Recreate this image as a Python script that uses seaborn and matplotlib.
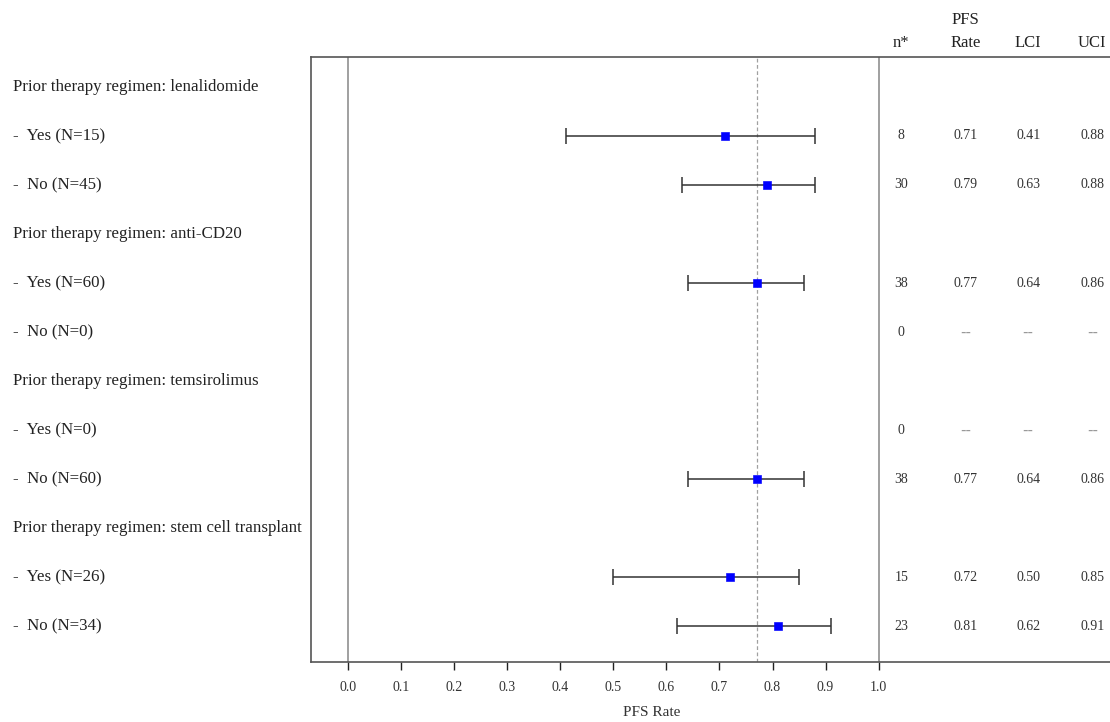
import matplotlib
matplotlib.use("Agg")
import matplotlib.pyplot as plt
import seaborn as sns
import numpy as np
import pandas as pd

# ---- data ----
row_labels = [
    "Prior therapy regimen: lenalidomide",
    "-  Yes (N=15)",
    "-  No (N=45)",
    "Prior therapy regimen: anti-CD20",
    "-  Yes (N=60)",
    "-  No (N=0)",
    "Prior therapy regimen: temsirolimus",
    "-  Yes (N=0)",
    "-  No (N=60)",
    "Prior therapy regimen: stem cell transplant",
    "-  Yes (N=26)",
    "-  No (N=34)",
]
is_header = [True, False, False, True, False, False, True, False, False, True, False, False]
n_star = [None, 8, 30, None, 38, 0, None, 0, 38, None, 15, 23]
pfs_rate = [None, 0.71, 0.79, None, 0.77, None, None, None, 0.77, None, 0.72, 0.81]
lci = [None, 0.41, 0.63, None, 0.64, None, None, None, 0.64, None, 0.50, 0.62]
uci = [None, 0.88, 0.88, None, 0.86, None, None, None, 0.86, None, 0.85, 0.91]
ref_rate = 0.77
xticks = [0.0, 0.1, 0.2, 0.3, 0.4, 0.5, 0.6, 0.7, 0.8, 0.9, 1.0]
col_headers = ["n*", "PFS\nRate", "LCI", "UCI"]

sns.set_theme(style="white")
plt.rcParams["font.family"] = ["Liberation Serif", "DejaVu Serif"]

fig = plt.figure(figsize=(11.1, 7.22), dpi=100)
ax = fig.add_axes([311 / 1110, 1 - 662 / 722, (1112 - 311) / 1110, (662 - 57) / 722])

rows = np.arange(len(row_labels))
df = pd.DataFrame({"row": rows, "rate": pfs_rate, "lci": lci, "uci": uci, "n": n_star})
dplot = df.dropna(subset=["rate"]).astype({"rate": float, "lci": float, "uci": float})

ax.axvline(0.0, color="#a0a0a0", lw=1.4, zorder=1)
ax.axvline(1.0, color="#a0a0a0", lw=1.4, zorder=1)
ax.axvline(ref_rate, color="#a0a0a0", lw=0.9, ls=(0, (3, 2)), zorder=1)

ax.errorbar(dplot["rate"], dplot["row"],
            xerr=[dplot["rate"] - dplot["lci"], dplot["uci"] - dplot["rate"]],
            fmt="none", ecolor="#333333", elinewidth=1.1, capsize=6, capthick=1.1, zorder=2)
sns.scatterplot(data=dplot, x="rate", y="row", marker="s", color="blue",
                edgecolor="blue", s=30, ax=ax, zorder=3, legend=False)

ax.set_xlim(-0.07, 1.44)
ax.set_ylim(11.73, -0.61)
ax.set_xticks(xticks)
ax.set_xticklabels([f"{t:.1f}" for t in xticks], fontsize=10, color="#333333")
ax.set_yticks([])
ax.set_xlabel("")
ax.set_ylabel("")
ax.tick_params(axis="x", direction="out", length=6, width=1, color="#222222", pad=8, bottom=True)
for s in ["left", "top", "bottom"]:
    ax.spines[s].set_color("#555555")
    ax.spines[s].set_linewidth(1.2)
ax.spines["right"].set_visible(False)

fig.text(652 / 1110, 1 - 712 / 722, "PFS Rate", fontsize=11, ha="center", va="center", color="#333333")

# row labels
for i, (lab, h) in enumerate(zip(row_labels, is_header)):
    y_fig = 1 - (87 + 49 * i) / 722
    fig.text(13 / 1110, y_fig, lab, fontsize=12.2, ha="left", va="center", color="#222222")

# table columns
col_x = [1.043, 1.164, 1.282, 1.403]
for i in range(len(row_labels)):
    if is_header[i]:
        continue
    vals = [str(n_star[i]),
            "--" if pfs_rate[i] is None else f"{pfs_rate[i]:.2f}",
            "--" if lci[i] is None else f"{lci[i]:.2f}",
            "--" if uci[i] is None else f"{uci[i]:.2f}"]
    for j, (cx, v) in enumerate(zip(col_x, vals)):
        if v == "--":
            ax.text(cx, i, v, fontsize=11, ha="center", va="center", color="#999999",
                    family=["DejaVu Sans"])
        else:
            ax.text(cx, i, v, fontsize=10, ha="center", va="center", color="#333333")

tr = ax.get_xaxis_transform()
hdr_y = 1 + (57 - 51) / (662 - 57)
for cx, h in zip(col_x, col_headers):
    ax.text(cx, hdr_y, h, transform=tr, fontsize=12, ha="center", va="bottom",
            color="#222222", linespacing=1.6, clip_on=False)

fig.savefig("out.png", dpi=100)
